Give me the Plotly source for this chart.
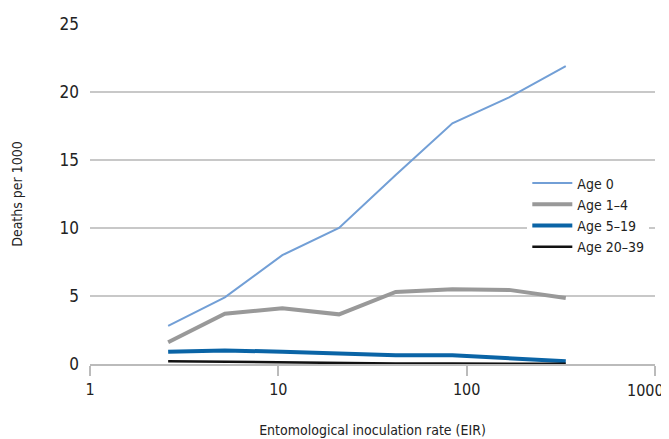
import plotly.graph_objects as go

eir = [2.6, 5.2, 10.5, 21, 42, 84, 168, 336]
age0 = [2.8, 4.9, 8.0, 10.0, 13.9, 17.7, 19.6, 21.9]
age1_4 = [1.6, 3.7, 4.1, 3.65, 5.3, 5.5, 5.45, 4.85]
age5_19 = [0.9, 1.0, 0.9, 0.8, 0.65, 0.65, 0.4, 0.2]
age20_39 = [0.2, 0.15, 0.1, 0.06, 0.04, 0.03, 0.03, 0.02]

x_tickvals = [1, 10, 100, 1000]
x_ticktext = ["1", "10", "100", "1000"]
y_tickvals = [0, 5, 10, 15, 20, 25]

series = [
    ("Age 0", age0, "#729fd6", 2),
    ("Age 1\u20134", age1_4, "#999999", 4),
    ("Age 5\u201319", age5_19, "#0a64a6", 4),
    ("Age 20\u201339", age20_39, "#111111", 2.5),
]

FONT = "DejaVu Sans Condensed, Liberation Sans Narrow, sans-serif"

fig = go.Figure()
for name, vals, color, w in series:
    fig.add_trace(go.Scatter(x=eir, y=vals, mode="lines", name=name,
                             line=dict(color=color, width=w)))

# last tick label is drawn as an annotation, right-aligned so it stays inside the window
shown_text = x_ticktext[:-1] + [""]
fig.add_annotation(x=3, y=0, xref="x", yref="y", text=x_ticktext[-1],
                   showarrow=False, xanchor="right", yanchor="top",
                   xshift=11, yshift=-15,
                   font=dict(size=16, family=FONT, color="#222"))

# page body has an 8px margin, so the figure is sized to fit the 669x439 window
fig.update_layout(
    width=661, height=431,
    margin=dict(l=82, r=14, t=16, b=75, autoexpand=False),
    plot_bgcolor="white", paper_bgcolor="white",
    font=dict(family=FONT, size=14, color="#222"),
    showlegend=True,
    legend=dict(x=0.774, y=0.578, xanchor="left", yanchor="top",
                bgcolor="white", font=dict(size=14, family=FONT),
                tracegroupgap=0, itemwidth=40),
    xaxis=dict(type="log", range=[0, 3.0001], tickvals=x_tickvals,
               ticktext=shown_text,
               showgrid=False, showline=True, linecolor="#bbbbbb", linewidth=1.5,
               ticks="outside", ticklen=10, tickcolor="#bbbbbb", tickwidth=1.5,
               tickfont=dict(size=16, family=FONT),
               automargin=False,
               title=dict(text="Entomological inoculation rate (EIR)",
                          font=dict(size=14, family=FONT), standoff=27),
               zeroline=False),
    yaxis=dict(range=[0, 25], tickvals=y_tickvals,
               showgrid=True, gridcolor="#c8c8c8", gridwidth=1.5,
               showline=False, zeroline=False, ticks="",
               ticklabelstandoff=10, automargin=False,
               tickfont=dict(size=17, family=FONT),
               title=dict(text="Deaths per 1000", font=dict(size=14, family=FONT),
                          standoff=33)),
)

fig.write_html("out.html")
